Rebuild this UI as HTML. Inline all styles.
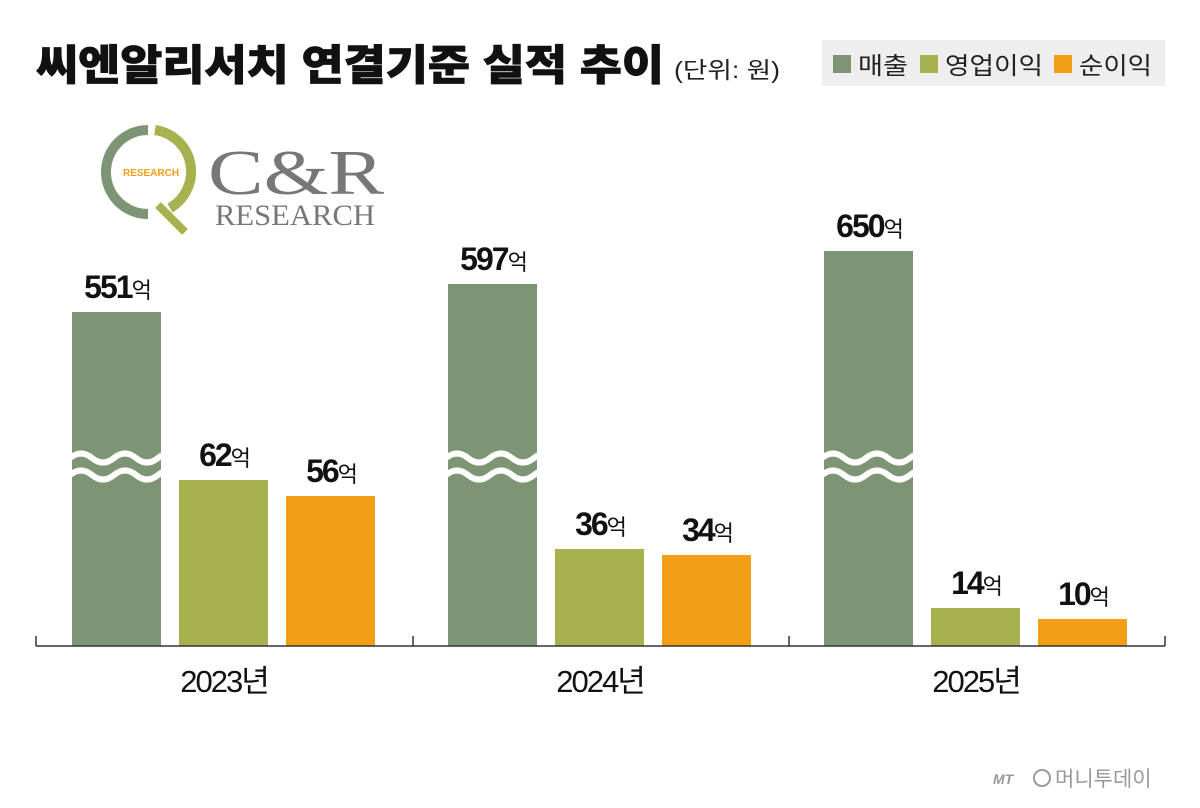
<!DOCTYPE html>
<html><head><meta charset="utf-8"><style>
body{margin:0;width:1200px;height:803px;background:#fff;overflow:hidden;font-family:"Liberation Sans","Noto Sans CJK KR",sans-serif}
</style></head><body>
<svg width="1200" height="803" xmlns="http://www.w3.org/2000/svg" font-family="Liberation Sans, Noto Sans CJK KR, sans-serif">
<text x="36" y="80" font-size="42" font-weight="900" fill="#111" textLength="628" lengthAdjust="spacingAndGlyphs" stroke="#111" stroke-width="0.8">씨엔알리서치 연결기준 실적 추이</text>
<text x="674" y="78" font-size="23" fill="#222" textLength="106" lengthAdjust="spacingAndGlyphs">(단위: 원)</text>
<rect x="822" y="40" width="343" height="46" fill="#eeeeee"/>
<rect x="833" y="55" width="18" height="18" fill="#7e9575"/><text x="858" y="74" font-size="24" fill="#222" textLength="50" lengthAdjust="spacingAndGlyphs">매출</text>
<rect x="920" y="55" width="18" height="18" fill="#a7b14d"/><text x="945" y="74" font-size="24" fill="#222" textLength="98" lengthAdjust="spacingAndGlyphs">영업이익</text>
<rect x="1054" y="55" width="18" height="18" fill="#f39f16"/><text x="1079" y="74" font-size="24" fill="#222" textLength="73" lengthAdjust="spacingAndGlyphs">순이익</text>
<!-- logo -->
<path d="M148 130 A42 42 0 0 0 148 214" fill="none" stroke="#7e9575" stroke-width="10"/>
<path d="M155 130 A42 42 0 0 1 170 208" fill="none" stroke="#a7b14d" stroke-width="10"/>
<path d="M158 205 L185 232" stroke="#a7b14d" stroke-width="8"/>
<text x="151" y="176" font-size="10" font-weight="bold" fill="#f39f16" text-anchor="middle">RESEARCH</text>
<text x="208" y="194" font-size="64" font-family="Liberation Serif, serif" fill="#777" textLength="176" lengthAdjust="spacingAndGlyphs">C&amp;R</text>
<text x="215" y="225" font-size="30" font-family="Liberation Serif, serif" fill="#777" textLength="160" lengthAdjust="spacingAndGlyphs">RESEARCH</text>
<!-- bars -->
<g>
<rect x="72" y="312" width="89" height="334" fill="#7e9575"/>
<rect x="179" y="480" width="89" height="166" fill="#a7b14d"/>
<rect x="286" y="496" width="89" height="150" fill="#f39f16"/>
<rect x="448" y="284" width="89" height="362" fill="#7e9575"/>
<rect x="555" y="549" width="89" height="97" fill="#a7b14d"/>
<rect x="662" y="555" width="89" height="91" fill="#f39f16"/>
<rect x="824" y="251" width="89" height="395" fill="#7e9575"/>
<rect x="931" y="608" width="89" height="38" fill="#a7b14d"/>
<rect x="1038" y="619" width="89" height="27" fill="#f39f16"/>
</g>
<g fill="none" stroke="#fff" stroke-width="6">
<path id="w" d="M70 458 q11 -9 22 0 t22 0 t22 0 t22 0 t22 0 M70 475 q11 -9 22 0 t22 0 t22 0 t22 0 t22 0"/>
<use href="#w" x="376"/><use href="#w" x="752"/>
</g>
<path d="M36 646 H1165 M36 636 V646 M413 636 V646 M789 636 V646 M1165 636 V646" stroke="#333" stroke-width="1.5" fill="none"/>
<g font-size="32" font-weight="bold" fill="#111" text-anchor="middle" letter-spacing="-2">
<text x="117" y="298">551<tspan font-size="22" font-weight="normal">억</tspan></text>
<text x="224" y="466">62<tspan font-size="22" font-weight="normal">억</tspan></text>
<text x="331" y="482">56<tspan font-size="22" font-weight="normal">억</tspan></text>
<text x="493" y="270">597<tspan font-size="22" font-weight="normal">억</tspan></text>
<text x="600" y="535">36<tspan font-size="22" font-weight="normal">억</tspan></text>
<text x="707" y="541">34<tspan font-size="22" font-weight="normal">억</tspan></text>
<text x="869" y="237">650<tspan font-size="22" font-weight="normal">억</tspan></text>
<text x="976" y="594">14<tspan font-size="22" font-weight="normal">억</tspan></text>
<text x="1083" y="605">10<tspan font-size="22" font-weight="normal">억</tspan></text>
</g>
<g font-size="31" fill="#111" text-anchor="middle" letter-spacing="-2">
<text x="224" y="692">2023년</text><text x="600" y="692">2024년</text><text x="976" y="692">2025년</text>
</g>
<text x="993" y="784" font-size="14" font-style="italic" font-weight="bold" fill="#999">MT</text>
<circle cx="1042" cy="778" r="8" fill="none" stroke="#999" stroke-width="2"/>
<text x="1055" y="786" font-size="21" fill="#999">머니투데이</text>
</svg>
</body></html>
